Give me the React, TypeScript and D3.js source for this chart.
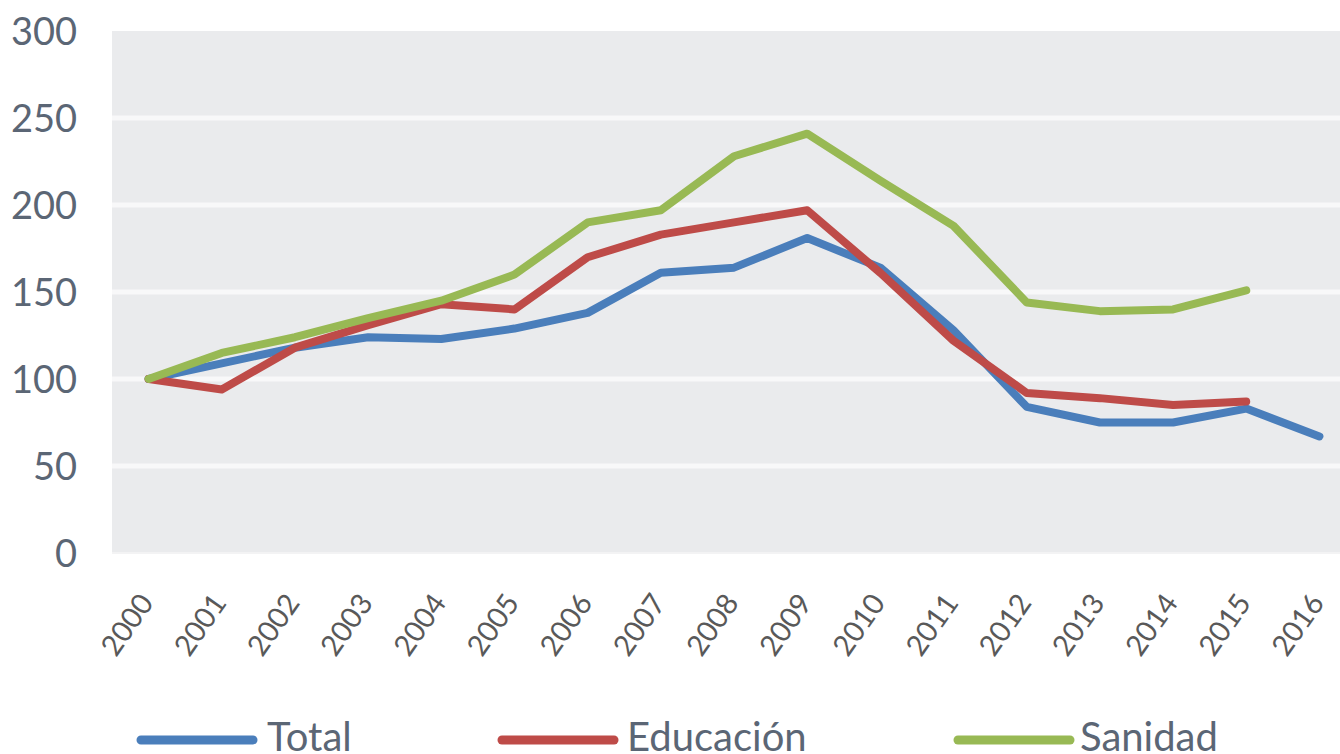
import React, { useMemo } from 'react';
import * as d3 from 'd3';

const years = ['2000', '2001', '2002', '2003', '2004', '2005', '2006', '2007', '2008',
  '2009', '2010', '2011', '2012', '2013', '2014', '2015', '2016'];

const total = [100, 109, 118, 124, 123, 129, 138, 161, 164, 181, 164, 128, 84, 75, 75, 83, 67];
const educacion = [100, 94, 118, 131, 143, 140, 170, 183, 190, 197, 161, 122, 92, 89, 85, 87];
const sanidad = [100, 115, 124, 135, 145, 160, 190, 197, 228, 241, 214, 188, 144, 139, 140, 151];

const yTicks = [0, 50, 100, 150, 200, 250, 300];

const seriesList = [
  { name: 'Total', values: total, color: '#4A7EBB' },
  { name: 'Educación', values: educacion, color: '#BE4B48' },
  { name: 'Sanidad', values: sanidad, color: '#98B954' },
];

const W = 1340;
const H = 754;
const plot = { left: 112, top: 31, right: 1356, bottom: 553 };
const FONT = 'Lato, "Open Sans", sans-serif';

export default function App() {
  const x = useMemo(
    () => d3.scaleBand<string>().domain(years).range([plot.left, plot.right]).paddingInner(0).paddingOuter(0),
    []
  );
  const y = useMemo(() => d3.scaleLinear().domain([0, 300]).range([plot.bottom, plot.top]), []);

  const cx = (i: number) => (x(years[i]) as number) + x.bandwidth() / 2;

  const line = d3
    .line<number>()
    .x((_, i) => cx(i))
    .y((d) => y(d))
    .curve(d3.curveLinear);

  // legend layout, left to right
  const legendItems = [
    { lx: 141, tx: 267 },
    { lx: 502, tx: 627 },
    { lx: 958, tx: 1080 },
  ];

  return (
    <div style={{ position: 'fixed', left: 0, top: 0, width: W, height: H, background: '#fff' }}>
      <svg width={W} height={H} style={{ display: 'block' }}>
        <rect
          x={plot.left}
          y={plot.top}
          width={plot.right - plot.left}
          height={plot.bottom - plot.top}
          fill="#EAEBED"
        />

        {/* Grid Lines */}
        {yTicks
          .filter((t) => t > 0 && t < 300)
          .map((t) => (
            <line key={t} x1={plot.left} x2={plot.right} y1={y(t)} y2={y(t)} stroke="#F8F8F9" strokeWidth={5} />
          ))}
        <line x1={plot.left} x2={plot.right} y1={y(0)} y2={y(0)} stroke="#F3F3F4" strokeWidth={2} />

        {/* Y ticks */}
        {yTicks.map((t) => (
          <text
            key={t}
            x={77}
            y={y(t)}
            dy="0.36em"
            textAnchor="end"
            fontFamily={FONT}
            fontSize={38}
            fill="#5B6675"
          >
            {t}
          </text>
        ))}

        {/* X ticks */}
        {years.map((yr, i) => (
          <text
            key={yr}
            transform={`translate(${cx(i) + 6},${603}) rotate(-55)`}
            textAnchor="end"
            fontFamily={FONT}
            fontSize={29}
            fill="#595959"
          >
            {yr}
          </text>
        ))}

        {/* Series */}
        {seriesList.map((s) => (
          <path
            key={s.name}
            d={line(s.values) || ''}
            fill="none"
            stroke={s.color}
            strokeWidth={8}
            strokeLinejoin="round"
            strokeLinecap="round"
          />
        ))}

        {/* Legend */}
        {seriesList.map((s, i) => (
          <g key={s.name}>
            <line
              x1={legendItems[i].lx}
              x2={legendItems[i].lx + 112}
              y1={740}
              y2={740}
              stroke={s.color}
              strokeWidth={9}
              strokeLinecap="round"
            />
            <text x={legendItems[i].tx} y={751} fontFamily={FONT} fontSize={40} fill="#5B6675">
              {s.name}
            </text>
          </g>
        ))}
      </svg>
    </div>
  );
}
